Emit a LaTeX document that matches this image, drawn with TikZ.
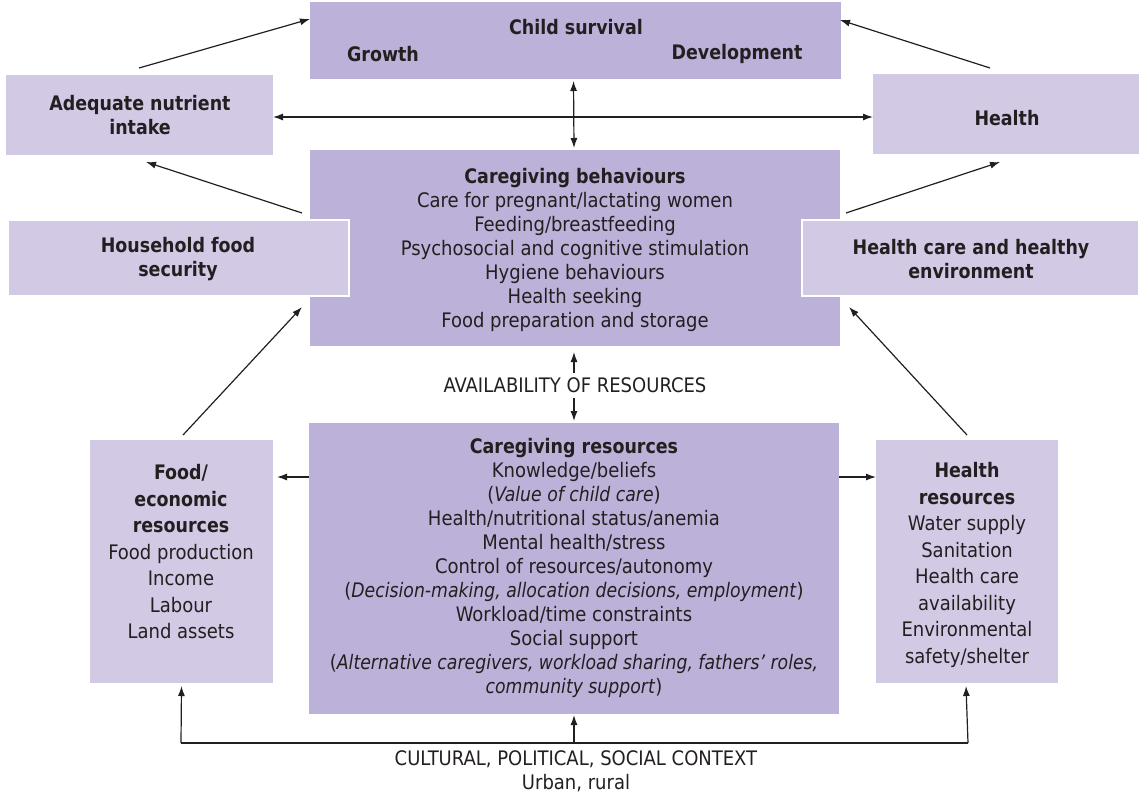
\documentclass[tikz,border=0pt]{standalone}
\usepackage{fontspec}
\setmainfont{DejaVu Sans Condensed}[BoldFeatures={FakeStretch=0.97},ItalicFeatures={FakeStretch=0.96}]
\usetikzlibrary{arrows.meta,calc}
\definecolor{darkp}{HTML}{BCB1D8}
\definecolor{lightp}{HTML}{D2C9E5}
\definecolor{ink}{HTML}{231F20}
\begin{document}
\begin{tikzpicture}[x=1pt,y=-1pt,
  boxd/.style={fill=darkp,draw=none,inner sep=0,outer sep=0,anchor=north west},
  boxl/.style={fill=lightp,draw=none,inner sep=0,outer sep=0,anchor=north west},
  boxw/.style={fill=lightp,draw=white,line width=2.5pt,inner sep=0,outer sep=0,anchor=north west},
  txt/.style={text=ink,align=center,inner sep=0,font=\fontsize{20}{24}\selectfont},
  txts/.style={text=ink,align=center,inner sep=0,font=\fontsize{20}{26.5}\selectfont},
  arr/.style={draw=ink,line width=1.2pt,-{Latex[length=10pt,width=7pt]}},
  darr/.style={draw=ink,line width=1.2pt,{Latex[length=10pt,width=7pt]}-{Latex[length=10pt,width=7pt]}},
  ln/.style={draw=ink,line width=1.2pt}]
\useasboundingbox (0,0) rectangle (1139,798);
% boxes
\node[boxd,minimum width=531pt,minimum height=77pt] (cs) at (310,2) {};
\node[boxl,minimum width=267pt,minimum height=80pt] (ani) at (6,75) {};
\node[boxl,minimum width=266pt,minimum height=80pt] (hl) at (873,74) {};
\node[boxd,minimum width=530pt,minimum height=196pt] (cb) at (310,150) {};
\node[boxw,minimum width=341pt,minimum height=76pt] (hfs) at (8,220) {};
\node[boxw,minimum width=337pt,minimum height=76pt] (hce) at (802,220) {};
\node[boxd,minimum width=530pt,minimum height=291pt] (cr) at (309,423) {};
\node[boxl,minimum width=183pt,minimum height=243pt] (fer) at (90,440) {};
\node[boxl,minimum width=182pt,minimum height=243pt] (hr) at (876,440) {};
% texts
\node[txt] (t-cs) at (576,27) {\textbf{Child survival}};
\node[txt] (t-gr) at (383,54) {\textbf{Growth}};
\node[txt] (t-dv) at (737,54) {\textbf{Development}};
\node[txt] (t-ani) at (140,115) {\textbf{Adequate nutrient}\\\textbf{intake}};
\node[txt] (t-hl) at (1007,118) {\textbf{Health}};
\node[txt] (t-cb) at (575,250) {\textbf{Caregiving behaviours}\\Care for pregnant/lactating women\\Feeding/breastfeeding\\Psychosocial and cognitive stimulation\\Hygiene behaviours\\Health seeking\\Food preparation and storage};
\node[txt] (t-hfs) at (178,259) {\textbf{Household food}\\\textbf{security}};
\node[txt] (t-hce) at (971,259) {\textbf{Health care and healthy}\\\textbf{environment}};
\node[txt] (t-av) at (575,385) {AVAILABILITY OF RESOURCES};
\node[txt] (t-cr) at (574,568) {\textbf{Caregiving resources}\\Knowledge/beliefs\\(\textit{Value of child care})\\Health/nutritional status/anemia\\Mental health/stress\\Control of resources/autonomy\\(\textit{Decision-making, allocation decisions, employment})\\Workload/time constraints\\Social support\\(\textit{Alternative caregivers, workload sharing, fathers’ roles,}\\\textit{community support})};
\node[txts] (t-fer) at (181,552) {\textbf{Food/}\\\textbf{economic}\\\textbf{resources}\\Food production\\Income\\Labour\\Land assets};
\node[txts] (t-hr) at (967,565) {\textbf{Health}\\\textbf{resources}\\Water supply\\Sanitation\\Health care\\availability\\Environmental\\safety/shelter};
\node[txt] (t-ctx) at (576,771) {CULTURAL, POLITICAL, SOCIAL CONTEXT\\Urban, rural};
% free-end coordinates
\coordinate (p1) at (139,68);
\coordinate (p2) at (990,68);
\coordinate (p5) at (302,213);
\coordinate (p6) at (846,213);
\coordinate (p7) at (183,435);
\coordinate (p8) at (967,435);
\coordinate (q5) at (146,162);
\coordinate (q6) at (1000,162);
\coordinate (q7) at (302,307);
\coordinate (q8) at (849,307);
\coordinate (bl) at (181,743);
\coordinate (br) at (968,743);
\coordinate (bm) at (574,743);
% connectors
\draw[arr] (p1) -- ($(cs.north west)+(0,17)$);
\draw[arr] (p2) -- ($(cs.north east)+(-1,18)$);
\draw[darr] (ani.east |- 0,117) -- (hl.west |- 0,117);
\draw[darr] ($(cs.south)+(-2,2)$) -- ($(cb.north)+(-1,-2)$);
\draw[arr] (p5) -- (q5);
\draw[arr] (p6) -- (q6);
\draw[arr] (p7) -- (q7);
\draw[arr] (p8) -- (q8);
\draw[arr] ($(t-av.north)+(-1,-4)$) -- ($(cb.south)+(-1,6)$);
\draw[arr] ($(t-av.south)+(-1,5)$) -- ($(cr.north)+(0,-2)$);
\draw[arr] (cr.west |- 0,477) -- ($(fer.east |- 0,477)+(4,0)$);
\draw[arr] (cr.east |- 0,477) -- (hr.west |- 0,477);
\draw[ln] (bl) -- (br);
\draw[arr] (bl) -- ($(fer.south)+(0,3)$);
\draw[arr] (br) -- ($(hr.south)+(-1,3)$);
\draw[arr] (bm) -- ($(cr.south)+(0,1)$);
\end{tikzpicture}
\end{document}
